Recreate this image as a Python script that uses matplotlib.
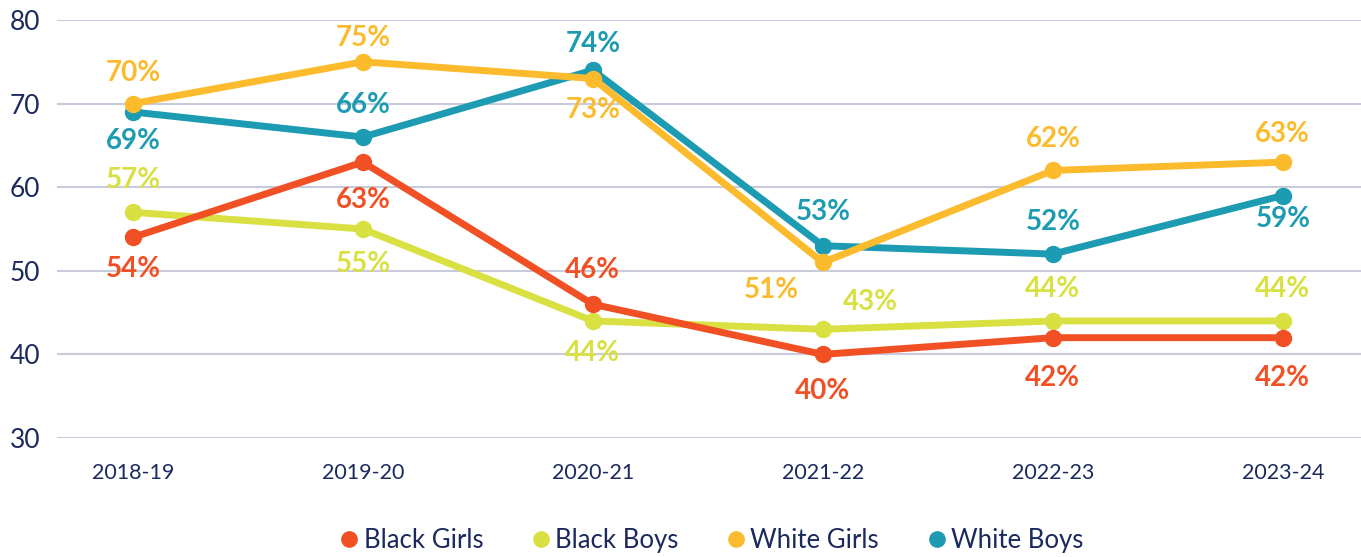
import matplotlib
matplotlib.use("Agg")
import matplotlib.pyplot as plt

years = ["2018-19", "2019-20", "2020-21", "2021-22", "2022-23", "2023-24"]
black_girls = [54, 63, 46, 40, 42, 42]
black_boys = [57, 55, 44, 43, 44, 44]
white_girls = [70, 75, 73, 51, 62, 63]
white_boys = [69, 66, 74, 53, 52, 59]

series_names = ["Black Girls", "Black Boys", "White Girls", "White Boys"]
colors = ["#F15025", "#D9E042", "#FBBB2C", "#1C9BB2"]

# label offsets in points (dx, dy)
offsets = {
    "Black Girls": [(0, -23), (0, -27), (0, 25), (0, -26), (0, -29), (0, -29)],
    "Black Boys": [(0, 23), (0, -25), (0, -23), (34, 20), (0, 23), (0, 23)],
    "White Girls": [(0, 22), (0, 17), (0, -23), (-37, -20), (0, 23), (0, 20)],
    "White Boys": [(0, -21), (0, 23), (0, 19), (0, 24), (0, 23), (0, -17)],
}

plt.rcParams['font.family'] = ['Lato', 'DejaVu Sans']
navy = "#1B2A5E"

fig = plt.figure(figsize=(13.61, 5.57), dpi=100)
ax = fig.add_axes([57/1361, 1-438/557, 1-57/1361, (438-20)/557])

x = list(range(len(years)))
data = [black_girls, black_boys, white_girls, white_boys]
zorders = {"Black Boys": 3, "Black Girls": 4, "White Boys": 5, "White Girls": 6}
for name, vals, c in zip(series_names, data, colors):
    ax.plot(x, vals, color=c, lw=5, marker='o', markersize=11.5, label=name,
            zorder=zorders[name], clip_on=False, solid_capstyle='round')
    for xi, v, (dx, dy) in zip(x, vals, offsets[name]):
        ax.annotate(f"{v}%", (xi, v), xytext=(dx, dy), textcoords='offset points',
                    ha='center', va='center', color=c, fontsize=20, fontweight='bold',
                    zorder=10, annotation_clip=False)

ax.set_ylim(30, 80)
ax.set_xlim(-0.33, 5.34)
ax.set_yticks([30, 40, 50, 60, 70, 80])
ax.set_xticks(x)
ax.set_xticklabels(years)
ax.tick_params(axis='y', length=0, labelsize=19, labelcolor=navy, pad=12)
ax.tick_params(axis='x', length=0, labelsize=15.5, labelcolor=navy, pad=18)
ax.grid(axis='y', color='#C8CBDC', lw=1.5)
ax.set_axisbelow(True)
for s in ax.spines.values():
    s.set_visible(False)

leg = fig.legend(loc='lower center', bbox_to_anchor=(0.524, -0.012), ncol=4, frameon=False,
                 fontsize=18.5, handlelength=0.5, handletextpad=0.3, columnspacing=2.0,
                 labelcolor=navy, borderaxespad=0)
for h in leg.legend_handles:
    h.set_linestyle('none')
    h.set_markersize(11)

fig.savefig("out.png", dpi=100)
